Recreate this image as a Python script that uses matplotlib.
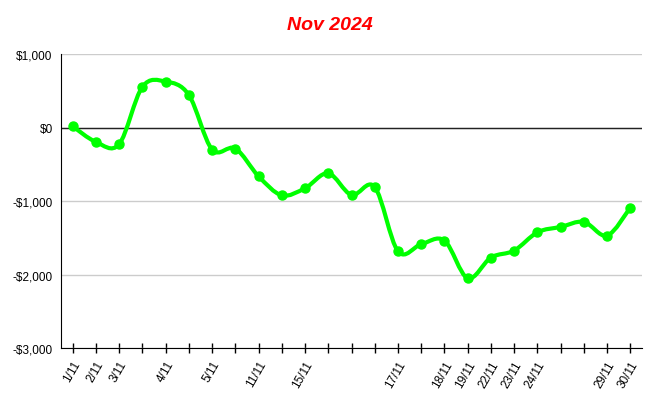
import numpy as np
import matplotlib
matplotlib.use("Agg")
import matplotlib.pyplot as plt
from matplotlib.path import Path
from matplotlib.patches import PathPatch
from matplotlib.ticker import FuncFormatter

plt.rcParams['font.family'] = ['Liberation Sans', 'DejaVu Sans']

# cumulative P/L per trade
values = [20, -193, -225, 556, 629, 447, -297, -283, -661, -920, -824, -620, -916,
          -807, -1683, -1587, -1537, -2050, -1768, -1673, -1424, -1351, -1283, -1469, -1087]
labels = ["1/11", "2/11", "3/11", "", "4/11", "", "5/11", "", "11/11", "", "15/11", "", "", "",
          "17/11", "", "18/11", "19/11", "22/11", "23/11", "24/11", "", "", "29/11", "30/11"]
yticks = [1000, 0, -1000, -2000, -3000]

line_col = "#00ff00"

fig = plt.figure(figsize=(6.59, 4.06), dpi=100)
ax = fig.add_axes([61/659, 1 - 349/406, (642 - 61)/659, (349 - 55.3)/406])

x = np.arange(len(values))
y = np.array(values, dtype=float)

# smooth curve through the points (catmull-rom as cubic bezier)
pts = np.column_stack([x, y])
ext = np.vstack([pts[0], pts, pts[-1]])
verts = [tuple(pts[0])]
codes = [Path.MOVETO]
for i in range(len(pts) - 1):
    p0, p1, p2, p3 = ext[i], ext[i + 1], ext[i + 2], ext[i + 3]
    c1 = p1 + (p2 - p0) / 6
    c2 = p2 - (p3 - p1) / 6
    verts += [tuple(c1), tuple(c2), tuple(p2)]
    codes += [Path.CURVE4] * 3
ax.add_patch(PathPatch(Path(verts, codes), facecolor="none", edgecolor=line_col,
                       lw=3, capstyle="round", joinstyle="round", zorder=3))
ax.plot(x, y, "o", color=line_col, ms=6.5, zorder=4)

ax.set_xlim(-0.5, len(values) - 0.5)
ax.set_ylim(-3000, 1000)
ax.set_yticks(yticks)
ax.yaxis.set_major_formatter(FuncFormatter(
    lambda v, p: ("-$" if v < 0 else "$") + f"{abs(int(v)):,}"))
ax.grid(axis="y", color="#cccccc", lw=1)
ax.axhline(0, color="#222222", lw=1, zorder=2)
ax.tick_params(axis="y", length=0, labelsize=8.5, pad=6)

ax.set_xticks(x)
ax.set_xticklabels(labels, rotation=60, ha="right", rotation_mode="anchor", fontsize=8.5)
ax.tick_params(axis="x", direction="inout", length=7, width=1, pad=4)

for s in ["top", "right"]:
    ax.spines[s].set_visible(False)
ax.spines["left"].set_color("black")
ax.spines["bottom"].set_color("black")
ax.set_axisbelow(True)

fig.text(0.5, 1 - 25/406, "Nov 2024", color="red", fontsize=14, fontweight="bold",
         fontstyle="italic", ha="center", va="center")

fig.savefig("out.png", dpi=100)
